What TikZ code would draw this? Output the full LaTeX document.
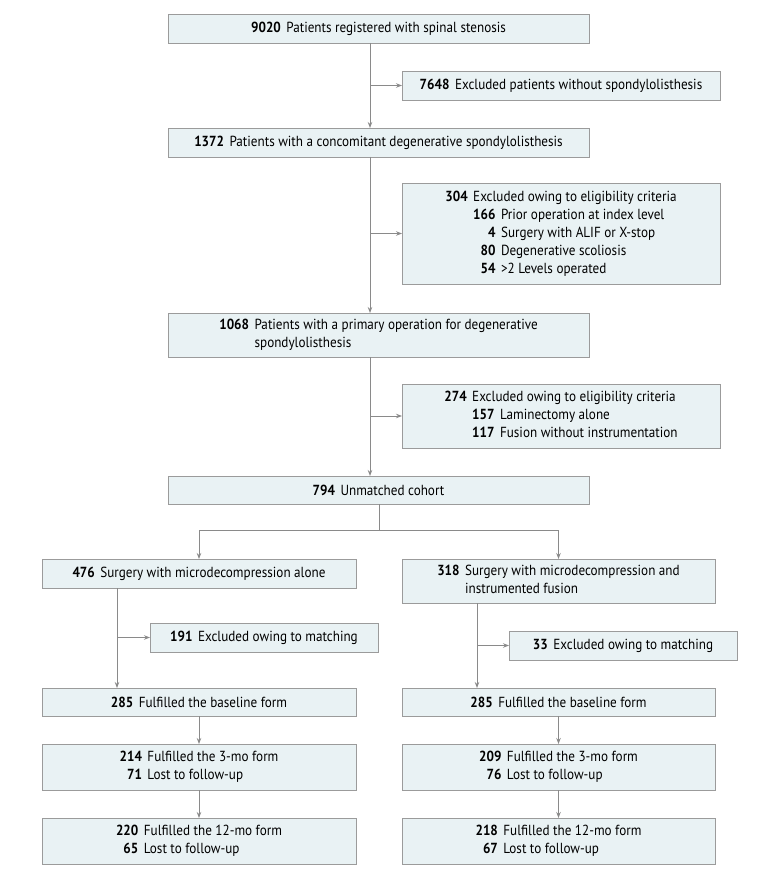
\documentclass[tikz,border=0pt]{standalone}
\usepackage{fontspec}
\setmainfont{PT Sans}[FakeStretch=0.9]
\usetikzlibrary{arrows.meta}
\definecolor{boxfill}{HTML}{E9F2F4}
\definecolor{boxline}{HTML}{9B9B9B}
\definecolor{arrline}{HTML}{8A8A8A}
\newcommand{\nlist}[1]{\begin{tabular}[t]{@{}r@{\hspace{5.5pt}}l@{}}#1\end{tabular}}

\begin{document}
\begin{tikzpicture}[x=1pt,y=-1pt,
  flowbox/.style={draw=boxline,fill=boxfill,line width=0.9pt,inner sep=0pt,outer sep=0pt,
    font=\fontsize{14.6}{18}\selectfont,align=center},
  wide/.style={flowbox,minimum width=421pt},
  side/.style={flowbox,minimum width=318pt},
  arm/.style={flowbox,minimum width=314pt},
  conn/.style={draw=arrline,line width=0.9pt},
  arr/.style={conn,-{Stealth[length=6pt,width=4.5pt]}}]
\useasboundingbox (0,0) rectangle (780,877);

\node[wide,minimum height=29pt] (reg) at (378.5,28.5) {\textbf{9020}\hspace{5.5pt}Patients registered with spinal stenosis};
\node[side,minimum height=29pt] (exA) at (561,85.5) {\textbf{7648}\hspace{5.5pt}Excluded patients without spondylolisthesis};
\node[wide,minimum height=29pt] (spo) at (378.5,142.5) {\textbf{1372}\hspace{5.5pt}Patients with a concomitant degenerative spondylolisthesis};
\node[side,minimum height=101pt] (exB) at (561,233.5) {\nlist{\textbf{304} & Excluded owing to eligibility criteria\\
  & \nlist{\textbf{166} & Prior operation at index level\\
  \textbf{4} & Surgery with ALIF or X-stop\\
  \textbf{80} & Degenerative scoliosis\\
  \textbf{54} & >2 Levels operated}}};
\node[wide,minimum height=44pt] (pri) at (378.5,335) {\nlist{\textbf{1068} & Patients with a primary operation for degenerative\\
  & spondylolisthesis}};
\node[side,minimum height=64pt] (exC) at (561,416) {\nlist{\textbf{274} & Excluded owing to eligibility criteria\\
  & \nlist{\textbf{157} & Laminectomy alone\\
  \textbf{117} & Fusion without instrumentation}}};
\node[wide,minimum height=28pt] (unm) at (378.5,490) {\textbf{794}\hspace{5.5pt}Unmatched cohort};

\node[arm,minimum height=29pt] (mic) at (199,573.5) {\textbf{476}\hspace{5.5pt}Surgery with microdecompression alone};
\node[arm,minimum width=313pt,minimum height=44pt] (fus) at (558.5,581) {\nlist{\textbf{318} & Surgery with microdecompression and\\
  & instrumented fusion}};
\node[flowbox,minimum width=228pt,minimum height=29pt] (exL) at (264,637.5) {\textbf{191}\hspace{5.5pt}Excluded owing to matching};
\node[flowbox,minimum width=228pt,minimum height=29pt] (exR) at (623,645.5) {\textbf{33}\hspace{5.5pt}Excluded owing to matching};

\node[arm,minimum height=28pt] (baseL) at (199,702) {\textbf{285}\hspace{5.5pt}Fulfilled the baseline form};
\node[arm,minimum width=313pt,minimum height=28pt] (baseR) at (558.5,702) {\textbf{285}\hspace{5.5pt}Fulfilled the baseline form};
\node[arm,minimum height=46pt] (thrL) at (199,767) {\nlist{\textbf{214} & Fulfilled the 3-mo form\\ \textbf{71} & Lost to follow-up}};
\node[arm,minimum width=313pt,minimum height=46pt] (thrR) at (558.5,767) {\nlist{\textbf{209} & Fulfilled the 3-mo form\\ \textbf{76} & Lost to follow-up}};
\node[arm,minimum height=46pt] (twL) at (199,841) {\nlist{\textbf{220} & Fulfilled the 12-mo form\\ \textbf{65} & Lost to follow-up}};
\node[arm,minimum width=313pt,minimum height=46pt] (twR) at (558.5,841) {\nlist{\textbf{218} & Fulfilled the 12-mo form\\ \textbf{67} & Lost to follow-up}};

\coordinate (xm) at (370,0);
\coordinate (xl) at (117,0);
\coordinate (xr) at (477,0);
\coordinate (split) at (379,530);

\draw[arr] (reg.south -| xm) -- (spo.north -| xm);
\draw[arr] (spo.south -| xm) -- (pri.north -| xm);
\draw[arr] (pri.south -| xm) -- (unm.north -| xm);
\draw[arr] (exA.west -| xm) -- (exA.west);
\draw[arr] (exB.west -| xm) -- (exB.west);
\draw[arr] (exC.west -| xm) -- (exC.west);

\draw[conn] (unm.south -| split) -- (split);
\draw[arr] (split) -| (mic.north);
\draw[arr] (split) -| (fus.north);

\draw[arr] (mic.south -| xl) -- (baseL.north -| xl);
\draw[arr] (exL.west -| xl) -- (exL.west);
\draw[arr] (fus.south -| xr) -- (baseR.north -| xr);
\draw[arr] (exR.west -| xr) -- (exR.west);

\draw[arr] (baseL) -- (thrL);
\draw[arr] (thrL) -- (twL);
\draw[arr] (baseR) -- (thrR);
\draw[arr] (thrR) -- (twR);
\end{tikzpicture}
\end{document}
